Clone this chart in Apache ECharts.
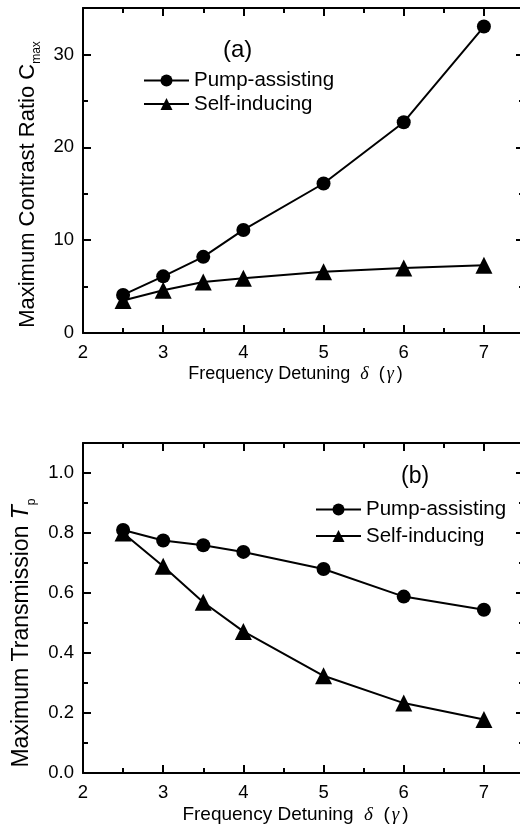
<!DOCTYPE html>
<html>
<head>
<meta charset="utf-8">
<script src="https://cdn.jsdelivr.net/npm/echarts@6/dist/echarts.min.js"></script>
<style>
html,body{margin:0;padding:0;background:#fff}
#chart{width:520px;height:831px}
</style>
</head>
<body>
<div id="chart"></div>
<script>
// frequency detuning delta (in units of gamma)
var detuning = [2.5, 3, 3.5, 4, 5, 6, 7];
// (a) maximum contrast ratio
var contrastPump = [4.1, 6.1, 8.2, 11.1, 16.1, 22.7, 33.0];
var contrastSelf = [3.5, 4.6, 5.5, 5.9, 6.6, 7.0, 7.3];
// (b) maximum transmission
var transPump = [0.81, 0.775, 0.759, 0.737, 0.68, 0.588, 0.544];
var transSelf = [0.80, 0.689, 0.569, 0.472, 0.324, 0.233, 0.178];
var seriesNames = ['Pump-assisting', 'Self-inducing'];
var panelLabels = ['(a)', '(b)'];

var FONT = 'Liberation Sans';
var black = '#000';

function pairs(xs, ys) {
    var out = [];
    for (var i = 0; i < xs.length; i++) out.push([xs[i], ys[i]]);
    return out;
}

var xName = 'Frequency Detuning  {g|δ}  ({gp|γ})';
function xNameStyle(size) {
    var greek = {fontFamily: 'Liberation Serif', fontStyle: 'italic', fontSize: size, color: black};
    return {
        fontFamily: FONT, fontSize: size, color: black, padding: [0, 16, 0, 0],
        rich: {g: greek, gp: Object.assign({}, greek, {padding: [0, 3, 0, 2]})}
    };
}

// one axis: main ones have line + long ticks, minor ones only short ticks
function axis(dim, g, pos, min, max, interval, main, label, name, nameStyle, nameGap) {
    var a = {
        type: 'value', gridIndex: g, position: pos,
        min: min, max: max, interval: interval,
        axisLine: {show: main, onZero: false, lineStyle: {color: black, width: 2}},
        axisTick: {show: true, inside: true, length: main ? 8 : 5, lineStyle: {color: black, width: 2}},
        axisLabel: {show: !!label},
        splitLine: {show: false},
        z: main ? 3 : 2
    };
    if (label) {
        a.axisLabel = {
            show: true, color: black, fontFamily: FONT, fontSize: 18.5,
            margin: dim == 'x' ? 10 : 9, formatter: label
        };
    }
    if (name) {
        a.name = name;
        a.nameLocation = 'middle';
        a.nameGap = nameGap;
        a.nameTextStyle = nameStyle;
    }
    return a;
}

var xLabel = function (v) { return (v % 1 === 0 && v <= 7) ? String(v) : ''; };
var yLabelA = function (v) { return (v % 10 === 0 && v <= 30) ? String(v) : ''; };
var yLabelB = function (v) { return v <= 1.0001 ? v.toFixed(1) : ''; };

var xAxes = [], yAxes = [];
var xNameSizes = [18, 19];
for (var g = 0; g < 2; g++) {
    xAxes.push(axis('x', g, 'bottom', 2, 7.5, 1, true, xLabel, xName, xNameStyle(xNameSizes[g]), 32));
    xAxes.push(axis('x', g, 'bottom', 2, 7.5, 0.5, false));
    xAxes.push(axis('x', g, 'top', 2, 7.5, 1, true));
    xAxes.push(axis('x', g, 'top', 2, 7.5, 0.5, false));
}
// panel (a)
yAxes.push(axis('y', 0, 'left', 0, 35, 10, true, yLabelA,
    '{n|Maximum Contrast Ratio C}{s|max}',
    {fontFamily: FONT, fontSize: 22, color: black, padding: [0, 28, 0, 0],
     rich: {n: {fontFamily: FONT, fontSize: 22, lineHeight: 26, verticalAlign: 'top', color: black},
            s: {fontFamily: FONT, fontSize: 12, lineHeight: 11, verticalAlign: 'bottom', color: black}}}, 39));
yAxes.push(axis('y', 0, 'left', 0, 35, 5, false));
yAxes.push(axis('y', 0, 'right', 0, 35, 10, true));
yAxes.push(axis('y', 0, 'right', 0, 35, 5, false));
// panel (b)
yAxes.push(axis('y', 1, 'left', 0, 1.1, 0.2, true, yLabelB,
    '{n|Maximum Transmission }{i|T}{s|p}',
    {fontFamily: FONT, fontSize: 23, color: black, padding: [0, 50, 0, 0],
     rich: {n: {fontFamily: FONT, fontSize: 23, lineHeight: 27, verticalAlign: 'top', color: black},
            i: {fontFamily: FONT, fontStyle: 'italic', fontSize: 23, lineHeight: 27, verticalAlign: 'top', color: black},
            s: {fontFamily: FONT, fontSize: 12, lineHeight: 11, verticalAlign: 'bottom', color: black}}}, 35));
yAxes.push(axis('y', 1, 'left', 0, 1.1, 0.1, false));
yAxes.push(axis('y', 1, 'right', 0, 1.1, 0.2, true));
yAxes.push(axis('y', 1, 'right', 0, 1.1, 0.1, false));

function line(name, data, g, symbol, size) {
    return {
        name: name, type: 'line', xAxisIndex: g * 4, yAxisIndex: g * 4,
        data: data, symbol: symbol, symbolSize: size,
        lineStyle: {color: black, width: 2},
        itemStyle: {color: black},
        animation: false, z: 5
    };
}

var legendBase = {
    orient: 'vertical', selectedMode: false, padding: 0,
    itemWidth: 45, itemHeight: 15,
    textStyle: {fontFamily: FONT, fontSize: 20.5, color: black},
    data: seriesNames
};

var option = {
    backgroundColor: '#fff',
    animation: false,
    grid: [
        {left: 83, top: 8, right: -4, bottom: 498, outerBoundsMode: 'none', containLabel: false},
        {left: 83, top: 443, right: -4, bottom: 58, outerBoundsMode: 'none', containLabel: false}
    ],
    xAxis: xAxes,
    yAxis: yAxes,
    legend: [
        Object.assign({}, legendBase, {left: 143, top: 70, itemGap: 2.5}),
        Object.assign({}, legendBase, {left: 315, top: 499, itemGap: 5.5})
    ],
    graphic: [
        {type: 'text', left: 223, top: 38, style: {text: panelLabels[0], fontFamily: FONT, fontSize: 24, fill: black}},
        {type: 'text', left: 401, top: 465, style: {text: panelLabels[1], fontFamily: FONT, fontSize: 23, fill: black}}
    ],
    series: [
        line(seriesNames[0], pairs(detuning, contrastPump), 0, 'circle', 14),
        line(seriesNames[1], pairs(detuning, contrastSelf), 0, 'triangle', 17),
        line(seriesNames[0], pairs(detuning, transPump), 1, 'circle', 14),
        line(seriesNames[1], pairs(detuning, transSelf), 1, 'triangle', 17)
    ]
};

var chart = echarts.init(document.getElementById('chart'));
chart.setOption(option);
</script>
</body>
</html>
